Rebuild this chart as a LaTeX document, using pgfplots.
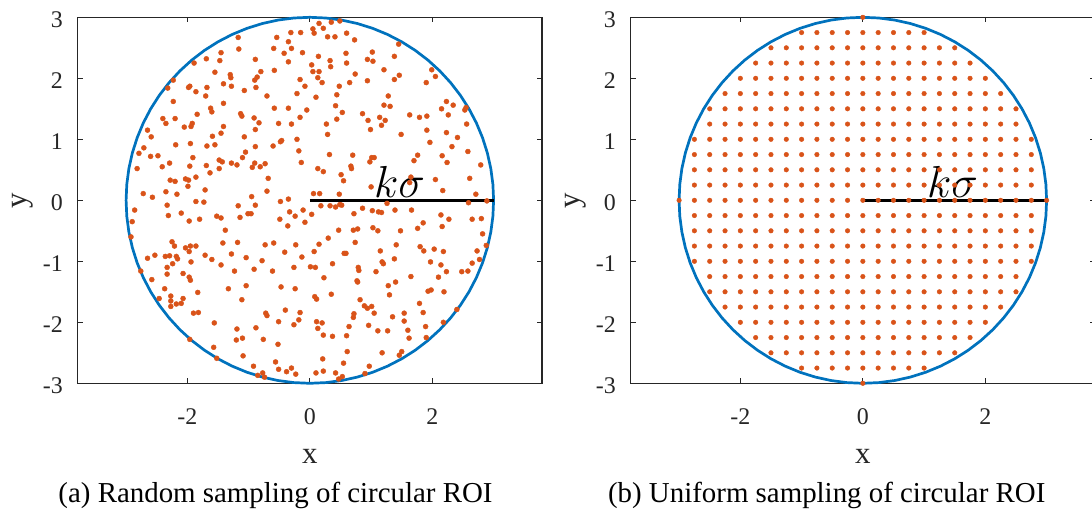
\documentclass[border=0pt]{standalone}
\usepackage{fontspec}
\setmainfont{Liberation Serif}
\usepackage{pgfplots}
\usepackage{pgfplotstable}
\pgfplotsset{compat=1.18}
\definecolor{mblue}{rgb}{0,0.447,0.741}
\definecolor{morange}{rgb}{0.85,0.325,0.098}
\definecolor{axgray}{rgb}{0.15,0.15,0.15}

\pgfplotstableread{
x y
3 0
2.9886 0.2615
2.9544 0.5209
2.8978 0.7765
2.8191 1.0261
2.7189 1.2679
2.5981 1.5
2.4575 1.7207
2.2981 1.9284
2.1213 2.1213
1.9284 2.2981
1.7207 2.4575
1.5 2.5981
1.2679 2.7189
1.0261 2.8191
0.7765 2.8978
0.5209 2.9544
0.2615 2.9886
0 3
-0.2615 2.9886
-0.5209 2.9544
-0.7765 2.8978
-1.0261 2.8191
-1.2679 2.7189
-1.5 2.5981
-1.7207 2.4575
-1.9284 2.2981
-2.1213 2.1213
-2.2981 1.9284
-2.4575 1.7207
-2.5981 1.5
-2.7189 1.2679
-2.8191 1.0261
-2.8978 0.7765
-2.9544 0.5209
-2.9886 0.2615
-3 0
-2.9886 -0.2615
-2.9544 -0.5209
-2.8978 -0.7765
-2.8191 -1.0261
-2.7189 -1.2679
-2.5981 -1.5
-2.4575 -1.7207
-2.2981 -1.9284
-2.1213 -2.1213
-1.9284 -2.2981
-1.7207 -2.4575
-1.5 -2.5981
-1.2679 -2.7189
-1.0261 -2.8191
-0.7765 -2.8978
-0.5209 -2.9544
-0.2615 -2.9886
0 -3
0.2615 -2.9886
0.5209 -2.9544
0.7765 -2.8978
1.0261 -2.8191
1.2679 -2.7189
1.5 -2.5981
1.7207 -2.4575
1.9284 -2.2981
2.1213 -2.1213
2.2981 -1.9284
2.4575 -1.7207
2.5981 -1.5
2.7189 -1.2679
2.8191 -1.0261
2.8978 -0.7765
2.9544 -0.5209
2.9886 -0.2615
3 0
}\circletable

\pgfplotstableread{
x y
0 0
3 0
}\radiustable

\pgfplotsset{
 roi/.style={
  scale only axis, width=464.3bp, height=366bp,
  xmin=-3.79, xmax=3.79, ymin=-3, ymax=3,
  xtick={-2,0,2}, xticklabels={-2,0,2},
  ytick={-3,-2,-1,0,1,2,3}, yticklabels={-3,-2,-1,0,1,2,3},
  tick align=inside, major tick length=5bp,
  axis line style={axgray, line width=1.2bp},
  tick style={axgray, line width=1bp},
  tick label style={font=\fontsize{24}{24}\selectfont, text=axgray, inner sep=0pt},
  xticklabel style={anchor=north, yshift=-25bp},
  yticklabel style={anchor=east, xshift=-14.7bp, yshift=-2bp},
  xlabel={x}, ylabel={y},
  label style={font=\fontsize{31}{31}\selectfont, text=axgray, inner sep=0pt},
  xlabel style={at={(axis description cs:0.5,-0.1795)}, anchor=north},
  ylabel style={at={(axis description cs:-0.1415,0.5)}, anchor=north},
  clip=false,
 }
}

\begin{document}
\begin{tikzpicture}
\useasboundingbox (0,0) rectangle (1092bp,518bp);
\clip (0,0) rectangle (1092bp,518bp);

% ---------- (a) random sampling ----------
\begin{axis}[roi, at={(77.7bp,134.7bp)}, anchor=south west]
\addplot[mblue, line width=2.7bp] table {\circletable};
\addplot[only marks, mark=*, mark size=2.5bp, color=morange] coordinates {
(-0.15,2.75) (-0.31,2.75) (-0.35,2.60) (-0.54,2.67) (-1.17,2.67) (-1.16,2.48) (-0.59,2.49) (-0.42,2.41) (-0.30,2.49) (-0.12,2.42)
(-0.35,2.27) (-1.45,2.42) (-1.47,2.29) (-1.69,2.32) (-1.89,2.25) (-0.89,2.31) (-0.16,1.98) (-0.08,1.87) (-0.21,1.75) (-0.58,2.13)
(-0.80,2.11) (-0.86,2.02) (-1.30,2.06) (-1.29,2.01) (-1.41,1.91) (-1.28,1.87) (-0.90,1.97) (-0.88,1.85) (-1.07,1.80) (-1.55,2.10)
(-1.68,1.85) (-1.70,1.71) (-1.86,1.78) (-1.96,1.87) (-1.98,1.85) (-2.23,1.97) (-2.32,1.84) (-2.23,1.62) (-0.70,1.71) (-0.05,1.48)
(-0.35,1.51) (-0.58,1.51) (-0.51,1.26) (-0.30,1.25) (-0.16,1.36) (-1.13,1.42) (-1.11,1.38) (-0.91,1.35) (-0.83,1.27) (-0.89,1.16)
(-1.41,1.59) (-1.62,1.51) (-1.60,1.45) (-1.84,1.41) (-1.92,1.26) (-1.94,1.21) (-2.05,1.20) (-2.40,1.34) (-2.20,1.34) (-2.35,1.26)
(-2.65,1.15) (-2.59,1.04) (-1.41,1.21) (-1.45,1.10) (-1.59,1.05) (-1.95,0.93) (-2.19,0.91) (-1.68,0.89) (-1.55,0.91) (-1.07,1.04)
(-0.89,0.88) (-1.05,0.79) (-1.10,0.70) (-0.46,0.98) (-0.48,0.96) (-0.60,0.89) (-0.21,1.00) (-0.18,0.81) (-0.14,0.62) (-2.79,0.77)
(-2.71,0.86) (-2.60,0.72) (-2.48,0.73) (-2.82,0.52) (-2.41,0.55) (-2.29,0.61) (-1.91,0.70) (-1.96,0.56) (-1.48,0.66) (-1.43,0.63)
(-1.28,0.61) (-1.19,0.58) (-0.94,0.54) (-0.90,0.61) (-0.81,0.55) (-0.73,0.60) (-1.69,0.57) (-1.63,0.45) (-1.48,0.52) (-2.20,0.31)
(-2.28,0.33) (-2.03,0.35) (-1.98,0.33) (-1.99,0.23) (-1.86,0.38) (-1.71,0.17) (-0.68,0.36) (-0.70,0.15) (-0.95,0.06) (-2.72,0.11)
(-2.57,0.05) (-2.35,0.14) (-2.17,0.10) (-0.35,0.02)
(-1.86,-0.02) (-1.73,-0.03) (-2.33,-0.08) (-2.10,-0.21) (-2.31,-0.25) (-1.97,-0.34) (-1.80,-0.31) (-2.86,-0.16) (-2.90,-0.35) (-2.92,-0.60)
(-1.52,-0.26) (-1.45,-0.29) (-1.38,-0.49) (-1.17,-0.09) (-1.14,-0.28) (-1.01,-0.22) (-0.96,-0.22) (-0.89,-0.08) (-0.48,-0.02) (-0.33,-0.19)
(-0.24,-0.26) (-0.11,-0.16) (-0.08,-0.36) (-0.36,-0.42) (-0.49,-0.31) (-2.25,-0.68) (-2.21,-0.75) (-2.29,-0.91) (-2.36,-0.92) (-2.18,-0.92)
(-2.16,-0.96) (-2.24,-1.04) (-2.33,-1.10) (-2.33,-1.21) (-2.53,-0.90) (-2.65,-0.95) (-2.76,-1.16) (-2.58,-1.30) (-2.03,-0.78) (-1.95,-0.75)
(-1.86,-0.75) (-1.97,-0.84) (-1.94,-1.01) (-2.07,-1.20) (-1.97,-1.26) (-1.95,-1.31) (-1.71,-0.90) (-1.60,-0.97) (-1.45,-1.06) (-1.42,-0.70)
(-1.28,-0.88) (-1.18,-0.69) (-1.23,-1.16) (-1.04,-0.94) (-0.91,-1.13) (-0.78,-0.99) (-0.73,-0.73) (-0.59,-0.70) (-0.61,-1.16) (-0.41,-0.85)
(-0.23,-0.73) (-0.26,-1.10) (-0.13,-0.93) (-2.37,-1.45) (-2.46,-1.61) (-2.27,-1.57) (-2.27,-1.65) (-2.18,-1.70) (-2.10,-1.69) (-2.07,-1.61)
(-2.27,-1.74) (-1.83,-1.51) (-1.90,-1.85) (-1.82,-1.84) (-1.33,-1.45) (-1.11,-1.63) (-1.04,-1.40) (-0.47,-1.42) (-0.24,-1.45) (-0.40,-1.80)
(-0.72,-1.85) (-0.70,-1.89) (-0.51,-1.99) (-0.26,-2.04) (-0.18,-1.96) (-0.16,-1.84) (-1.56,-2.01) (-1.19,-2.11) (-1.10,-2.26) (-1.20,-2.29)
(-0.88,-2.09) (-0.76,-2.28) (-0.52,-2.36) (-1.96,-2.28) (-1.57,-2.41) (-1.52,-2.59) (-1.09,-2.55) (-0.92,-2.72) (-0.85,-2.87) (-0.77,-2.83)
(-0.74,-2.90) (-0.56,-2.65) (-0.51,-2.77) (-0.38,-2.81) (-0.30,-2.75) (-0.23,-2.85)
(0.05,2.81) (0.07,2.74) (0.15,2.90) (0.22,2.82) (0.29,2.68) (0.35,2.92) (0.49,2.94) (0.41,2.68) (0.60,2.74) (0.73,2.63)
(0.14,2.36) (0.33,2.29) (0.34,2.19) (0.03,2.22) (0.05,2.11) (0.15,2.11) (0.13,2.01) (0.20,1.93) (0.59,2.41) (0.60,2.25)
(0.74,2.07) (0.65,1.93) (0.48,1.87) (0.44,1.73) (0.10,1.69) (1.02,2.43) (0.94,2.31) (1.03,2.28) (1.38,2.36) (1.45,2.56)
(1.21,2.14) (1.46,2.05) (1.38,1.98) (0.94,1.96) (1.99,2.14) (2.05,2.03) (1.90,1.93) (1.28,1.71) (1.21,1.56) (1.31,1.54)
(0.42,1.55) (0.44,1.33) (0.53,1.44) (0.86,1.42) (0.95,1.31) (0.99,1.16) (1.14,1.36) (1.23,1.31) (1.17,1.23) (1.63,1.40)
(1.79,1.36) (1.91,1.38) (1.91,1.15) (1.49,1.08) (1.96,0.95) (2.15,1.50) (2.23,1.62) (2.34,1.56) (2.26,1.40) (2.53,1.48)
(2.55,1.52) (2.56,1.25) (2.23,1.11) (2.41,1.03) (2.32,0.88) (2.58,0.80) (2.79,0.58) (2.16,0.73) (2.24,0.62) (1.76,0.74)
(1.70,0.65) (2.05,0.34) (2.17,0.16) (2.61,0.36) (2.71,0.10) (0.27,1.25) (0.29,1.08) (0.32,0.75) (0.70,0.74) (0.67,0.56)
(0.68,0.52) (0.51,0.42) (0.55,0.32) (0.13,0.52) (0.22,0.47) (0.06,0.11) (0.16,0.11) (0.48,0.10) (0.98,0.63) (1.01,0.70)
(1.05,0.70) (1.65,0.38) (1.63,0.29) (1.00,0.22) (2.89,-0.01)
(0.18,-0.09) (0.33,-0.09) (0.42,-0.11) (0.49,-0.07) (0.52,-0.08) (0.86,-0.13) (0.72,-0.22) (1.02,-0.17) (1.12,-0.19) (1.17,-0.20)
(1.26,-0.05) (1.39,-0.16) (1.66,-0.16) (0.03,-0.23) (0.30,-0.62) (0.15,-0.72) (0.07,-0.84) (0.47,-0.49) (0.71,-0.49) (0.78,-0.47)
(1.03,-0.45) (1.11,-0.50) (1.48,-0.50) (0.74,-0.69) (0.56,-0.87) (0.59,-0.87) (1.15,-0.83) (1.41,-0.73) (1.38,-0.96) (1.18,-1.01)
(1.20,-1.04) (1.08,-1.17) (0.79,-1.10) (0.80,-1.15) (0.37,-1.04) (0.01,-1.09) (0.09,-1.10) (0.23,-1.27) (0.77,-1.32) (0.78,-1.34)
(1.28,-1.40) (1.40,-1.34) (1.30,-1.55) (0.35,-1.54) (0.08,-1.58) (0.11,-1.62) (0.82,-1.63) (0.89,-1.73) (0.94,-1.77) (1.01,-1.74)
(1.05,-1.85) (0.72,-1.86) (0.71,-1.92) (1.35,-1.91) (1.54,-1.85) (1.54,-1.98) (1.27,-2.14) (1.11,-2.14) (0.96,-2.05) (0.64,-2.07)
(0.60,-2.22) (0.37,-2.23) (0.22,-2.21) (0.11,-1.99) (0.20,-2.01) (0.13,-2.10) (1.60,-2.13) (1.62,-2.26) (0.61,-2.48) (1.18,-2.50)
(1.46,-2.54) (1.50,-2.48) (0.55,-2.67) (0.97,-2.72) (0.90,-2.84) (0.21,-2.60) (0.22,-2.80) (0.10,-2.83) (0.42,-2.83) (0.53,-2.89)
(0.47,-2.93) (1.76,-0.46) (1.85,-0.37) (1.80,-0.76) (1.86,-0.83) (2.03,-0.80) (1.97,-1.01) (2.14,-1.06) (2.23,-1.17) (2.10,-1.26)
(1.79,-1.69) (1.85,-1.84) (1.89,-2.07) (1.90,-2.25) (1.93,-1.49) (1.98,-1.47) (2.19,-1.50) (1.65,-1.25) (2.18,-0.84) (2.14,-0.24)
(2.16,-0.43) (2.27,-0.31) (2.65,-0.31) (2.80,-0.30) (2.82,-0.55) (2.73,-0.83) (2.77,-0.97) (2.65,-1.03) (2.58,-1.16) (2.48,-1.17)
(2.88,-0.74) (2.40,-1.79) (2.18,-2.00) (2.59,-0.04)
};
\addplot[black, line width=3bp] table {\radiustable};
\node[anchor=base west, inner sep=0pt, font=\Large, scale=3.125] at (axis cs:1.04,0.05) {$k\sigma$};
\end{axis}

% ---------- (b) uniform sampling ----------
\begin{axis}[roi, at={(630.7bp,134.7bp)}, anchor=south west]
\addplot[mblue, line width=2.7bp] table {\circletable};
\addplot[only marks, mark=*, mark size=2.3bp, color=morange] coordinates {
(0,3)
(-1,2.75) (-0.75,2.75) (-0.5,2.75) (-0.25,2.75) (0,2.75) (0.25,2.75) (0.5,2.75) (0.75,2.75) (1,2.75)
(-1.5,2.5) (-1.25,2.5) (-1,2.5) (-0.75,2.5) (-0.5,2.5) (-0.25,2.5) (0,2.5) (0.25,2.5) (0.5,2.5) (0.75,2.5) (1,2.5) (1.25,2.5) (1.5,2.5)
(-1.75,2.25) (-1.5,2.25) (-1.25,2.25) (-1,2.25) (-0.75,2.25) (-0.5,2.25) (-0.25,2.25) (0,2.25) (0.25,2.25) (0.5,2.25) (0.75,2.25) (1,2.25) (1.25,2.25) (1.5,2.25) (1.75,2.25)
(-2,2) (-1.75,2) (-1.5,2) (-1.25,2) (-1,2) (-0.75,2) (-0.5,2) (-0.25,2) (0,2) (0.25,2) (0.5,2) (0.75,2) (1,2) (1.25,2) (1.5,2) (1.75,2) (2,2)
(-2.25,1.75) (-2,1.75) (-1.75,1.75) (-1.5,1.75) (-1.25,1.75) (-1,1.75) (-0.75,1.75) (-0.5,1.75) (-0.25,1.75) (0,1.75) (0.25,1.75) (0.5,1.75) (0.75,1.75) (1,1.75) (1.25,1.75) (1.5,1.75) (1.75,1.75) (2,1.75) (2.25,1.75)
(-2.5,1.5) (-2.25,1.5) (-2,1.5) (-1.75,1.5) (-1.5,1.5) (-1.25,1.5) (-1,1.5) (-0.75,1.5) (-0.5,1.5) (-0.25,1.5) (0,1.5) (0.25,1.5) (0.5,1.5) (0.75,1.5) (1,1.5) (1.25,1.5) (1.5,1.5) (1.75,1.5) (2,1.5) (2.25,1.5) (2.5,1.5)
(-2.5,1.25) (-2.25,1.25) (-2,1.25) (-1.75,1.25) (-1.5,1.25) (-1.25,1.25) (-1,1.25) (-0.75,1.25) (-0.5,1.25) (-0.25,1.25) (0,1.25) (0.25,1.25) (0.5,1.25) (0.75,1.25) (1,1.25) (1.25,1.25) (1.5,1.25) (1.75,1.25) (2,1.25) (2.25,1.25) (2.5,1.25)
(-2.75,1) (-2.5,1) (-2.25,1) (-2,1) (-1.75,1) (-1.5,1) (-1.25,1) (-1,1) (-0.75,1) (-0.5,1) (-0.25,1) (0,1) (0.25,1) (0.5,1) (0.75,1) (1,1) (1.25,1) (1.5,1) (1.75,1) (2,1) (2.25,1) (2.5,1) (2.75,1)
(-2.75,0.75) (-2.5,0.75) (-2.25,0.75) (-2,0.75) (-1.75,0.75) (-1.5,0.75) (-1.25,0.75) (-1,0.75) (-0.75,0.75) (-0.5,0.75) (-0.25,0.75) (0,0.75) (0.25,0.75) (0.5,0.75) (0.75,0.75) (1,0.75) (1.25,0.75) (1.5,0.75) (1.75,0.75) (2,0.75) (2.25,0.75) (2.5,0.75) (2.75,0.75)
(-2.75,0.5) (-2.5,0.5) (-2.25,0.5) (-2,0.5) (-1.75,0.5) (-1.5,0.5) (-1.25,0.5) (-1,0.5) (-0.75,0.5) (-0.5,0.5) (-0.25,0.5) (0,0.5) (0.25,0.5) (0.5,0.5) (0.75,0.5) (1,0.5) (1.25,0.5) (1.5,0.5) (1.75,0.5) (2,0.5) (2.25,0.5) (2.5,0.5) (2.75,0.5)
(-2.75,0.25) (-2.5,0.25) (-2.25,0.25) (-2,0.25) (-1.75,0.25) (-1.5,0.25) (-1.25,0.25) (-1,0.25) (-0.75,0.25) (-0.5,0.25) (-0.25,0.25) (0,0.25) (0.25,0.25) (0.5,0.25) (0.75,0.25) (1,0.25) (1.25,0.25) (1.5,0.25) (1.75,0.25) (2,0.25) (2.25,0.25) (2.5,0.25) (2.75,0.25)
(-3,0) (-2.75,0) (-2.5,0) (-2.25,0) (-2,0) (-1.75,0) (-1.5,0) (-1.25,0) (-1,0) (-0.75,0) (-0.5,0) (-0.25,0) (0,0) (0.25,0) (0.5,0) (0.75,0) (1,0) (1.25,0) (1.5,0) (1.75,0) (2,0) (2.25,0) (2.5,0) (2.75,0) (3,0)
(-2.75,-0.25) (-2.5,-0.25) (-2.25,-0.25) (-2,-0.25) (-1.75,-0.25) (-1.5,-0.25) (-1.25,-0.25) (-1,-0.25) (-0.75,-0.25) (-0.5,-0.25) (-0.25,-0.25) (0,-0.25) (0.25,-0.25) (0.5,-0.25) (0.75,-0.25) (1,-0.25) (1.25,-0.25) (1.5,-0.25) (1.75,-0.25) (2,-0.25) (2.25,-0.25) (2.5,-0.25) (2.75,-0.25)
(-2.75,-0.5) (-2.5,-0.5) (-2.25,-0.5) (-2,-0.5) (-1.75,-0.5) (-1.5,-0.5) (-1.25,-0.5) (-1,-0.5) (-0.75,-0.5) (-0.5,-0.5) (-0.25,-0.5) (0,-0.5) (0.25,-0.5) (0.5,-0.5) (0.75,-0.5) (1,-0.5) (1.25,-0.5) (1.5,-0.5) (1.75,-0.5) (2,-0.5) (2.25,-0.5) (2.5,-0.5) (2.75,-0.5)
(-2.75,-0.75) (-2.5,-0.75) (-2.25,-0.75) (-2,-0.75) (-1.75,-0.75) (-1.5,-0.75) (-1.25,-0.75) (-1,-0.75) (-0.75,-0.75) (-0.5,-0.75) (-0.25,-0.75) (0,-0.75) (0.25,-0.75) (0.5,-0.75) (0.75,-0.75) (1,-0.75) (1.25,-0.75) (1.5,-0.75) (1.75,-0.75) (2,-0.75) (2.25,-0.75) (2.5,-0.75) (2.75,-0.75)
(-2.75,-1) (-2.5,-1) (-2.25,-1) (-2,-1) (-1.75,-1) (-1.5,-1) (-1.25,-1) (-1,-1) (-0.75,-1) (-0.5,-1) (-0.25,-1) (0,-1) (0.25,-1) (0.5,-1) (0.75,-1) (1,-1) (1.25,-1) (1.5,-1) (1.75,-1) (2,-1) (2.25,-1) (2.5,-1) (2.75,-1)
(-2.5,-1.25) (-2.25,-1.25) (-2,-1.25) (-1.75,-1.25) (-1.5,-1.25) (-1.25,-1.25) (-1,-1.25) (-0.75,-1.25) (-0.5,-1.25) (-0.25,-1.25) (0,-1.25) (0.25,-1.25) (0.5,-1.25) (0.75,-1.25) (1,-1.25) (1.25,-1.25) (1.5,-1.25) (1.75,-1.25) (2,-1.25) (2.25,-1.25) (2.5,-1.25)
(-2.5,-1.5) (-2.25,-1.5) (-2,-1.5) (-1.75,-1.5) (-1.5,-1.5) (-1.25,-1.5) (-1,-1.5) (-0.75,-1.5) (-0.5,-1.5) (-0.25,-1.5) (0,-1.5) (0.25,-1.5) (0.5,-1.5) (0.75,-1.5) (1,-1.5) (1.25,-1.5) (1.5,-1.5) (1.75,-1.5) (2,-1.5) (2.25,-1.5) (2.5,-1.5)
(-2.25,-1.75) (-2,-1.75) (-1.75,-1.75) (-1.5,-1.75) (-1.25,-1.75) (-1,-1.75) (-0.75,-1.75) (-0.5,-1.75) (-0.25,-1.75) (0,-1.75) (0.25,-1.75) (0.5,-1.75) (0.75,-1.75) (1,-1.75) (1.25,-1.75) (1.5,-1.75) (1.75,-1.75) (2,-1.75) (2.25,-1.75)
(-2,-2) (-1.75,-2) (-1.5,-2) (-1.25,-2) (-1,-2) (-0.75,-2) (-0.5,-2) (-0.25,-2) (0,-2) (0.25,-2) (0.5,-2) (0.75,-2) (1,-2) (1.25,-2) (1.5,-2) (1.75,-2) (2,-2)
(-1.75,-2.25) (-1.5,-2.25) (-1.25,-2.25) (-1,-2.25) (-0.75,-2.25) (-0.5,-2.25) (-0.25,-2.25) (0,-2.25) (0.25,-2.25) (0.5,-2.25) (0.75,-2.25) (1,-2.25) (1.25,-2.25) (1.5,-2.25) (1.75,-2.25)
(-1.5,-2.5) (-1.25,-2.5) (-1,-2.5) (-0.75,-2.5) (-0.5,-2.5) (-0.25,-2.5) (0,-2.5) (0.25,-2.5) (0.5,-2.5) (0.75,-2.5) (1,-2.5) (1.25,-2.5) (1.5,-2.5)
(-1,-2.75) (-0.75,-2.75) (-0.5,-2.75) (-0.25,-2.75) (0,-2.75) (0.25,-2.75) (0.5,-2.75) (0.75,-2.75) (1,-2.75)
(0,-3)
};
\addplot[black, line width=3bp] table {\radiustable};
\node[anchor=base west, inner sep=0pt, font=\Large, scale=3.125] at (axis cs:1.04,0.05) {$k\sigma$};
\end{axis}

\node[anchor=base, inner sep=0pt, font=\fontsize{29}{29}\selectfont] at (275.5bp,16bp) {(a) Random sampling of circular ROI};
\node[anchor=base, inner sep=0pt, font=\fontsize{29}{29}\selectfont] at (826.7bp,16bp) {(b) Uniform sampling of circular ROI};
\end{tikzpicture}
\end{document}
